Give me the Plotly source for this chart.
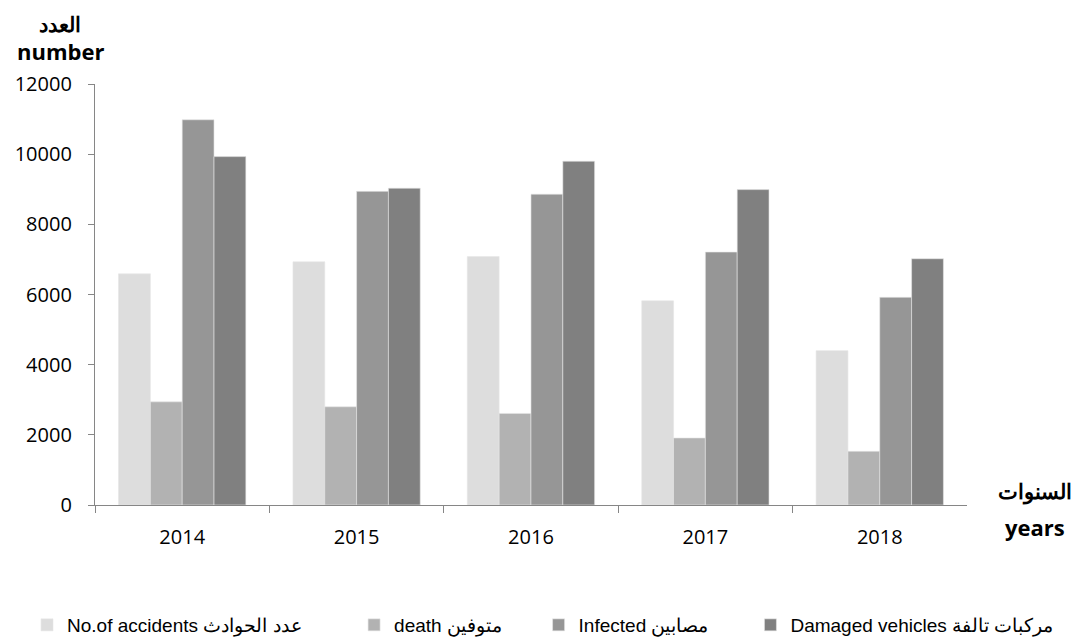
import plotly.graph_objects as go

years = ["2014", "2015", "2016", "2017", "2018"]
accidents = [6590, 6930, 7080, 5820, 4400]
deaths = [2940, 2800, 2610, 1910, 1530]
infected = [10980, 8940, 8860, 7210, 5920]
damaged = [9930, 9030, 9800, 8990, 7020]

names = ["No.of accidents عدد الحوادث", "death متوفين", "Infected مصابين", "Damaged vehicles مركبات تالفة"]
pads = [9, 6, 7, 0]
colors = ["#DDDDDD", "#B2B2B2", "#969696", "#808080"]
series = [accidents, deaths, infected, damaged]

fig = go.Figure()
for n, p, c, v in zip(names, pads, colors, series):
    fig.add_trace(go.Bar(x=years, y=v, name=n + "\u00a0" * p,
                         marker=dict(color=c, line=dict(color="#E6E6E6", width=0.6))))

axis_font = dict(family="Open Sans, sans-serif", size=20, color="#000000")
fig.update_layout(
    width=1068, height=631,
    margin=dict(l=87, r=10, t=76, b=134, autoexpand=False),
    paper_bgcolor="white", plot_bgcolor="white",
    barmode="group", bargap=0.27, bargroupgap=0,
    showlegend=True,
    legend=dict(orientation="h", x=-0.070, y=-0.285, xanchor="left", yanchor="middle",
                font=dict(family="Liberation Sans, Arial, sans-serif", size=19, color="#000000"),
                traceorder="normal", itemwidth=30),
    xaxis=dict(domain=[0, 0.898], showline=True, linecolor="#868686", linewidth=1.3, ticks="outside",
               tickson="boundaries", ticklen=7, tickcolor="#868686", tickfont=axis_font, showgrid=False,
               ticklabelstandoff=14),
    yaxis=dict(range=[0, 12000], dtick=2000, tickformat="d", showline=True, linecolor="#868686",
               linewidth=1.3, ticks="outside", ticklen=6, tickcolor="#868686", tickfont=axis_font,
               showgrid=False, zeroline=False, ticklabelstandoff=12),
    font=dict(family="Open Sans, sans-serif"),
)

title_font = dict(family="Open Sans, sans-serif", size=22, color="#000000")
fig.add_annotation(text="<b>العدد</b>", xref="paper", yref="paper", x=-0.036, y=1.143,
                   showarrow=False, font=dict(family="Open Sans, sans-serif", size=21, color="#000000"),
                   xanchor="center", yanchor="middle")
fig.add_annotation(text="<b>number</b>", xref="paper", yref="paper", x=-0.036, y=1.078,
                   showarrow=False, font=title_font, xanchor="center", yanchor="middle")
fig.add_annotation(text="<b>السنوات</b>", xref="paper", yref="paper", x=0.968, y=0.033,
                   showarrow=False, font=dict(family="Open Sans, sans-serif", size=21, color="#000000"),
                   xanchor="center", yanchor="middle")
fig.add_annotation(text="<b>years</b>", xref="paper", yref="paper", x=0.968, y=-0.052,
                   showarrow=False, font=title_font, xanchor="center", yanchor="middle")

fig.write_html("out.html")
